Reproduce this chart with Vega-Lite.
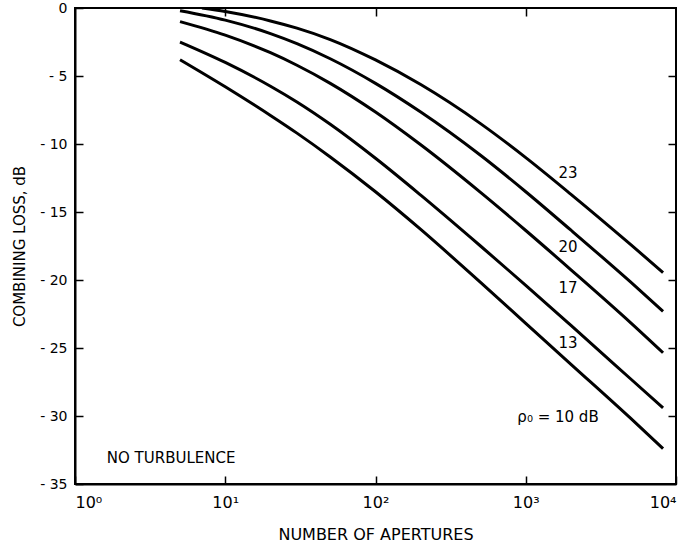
{
  "$schema": "https://vega.github.io/schema/vega-lite/v6.json",
  "width": 601,
  "height": 476,
  "autosize": {"type": "none"},
  "padding": {"left": 75, "top": 8, "right": 4, "bottom": 66},
  "background": "white",
  "config": {
    "view": {"stroke": "black", "strokeWidth": 2},
    "font": "DejaVu Sans",
    "axis": {
      "domainColor": "black",
      "domainWidth": 2,
      "tickColor": "black",
      "tickWidth": 1.5,
      "grid": false,
      "labelColor": "black",
      "titleColor": "black",
      "labelFont": "DejaVu Sans",
      "titleFont": "DejaVu Sans",
      "titleFontWeight": "normal"
    }
  },
  "datasets": {
    "curves": [
      {"n": 5, "loss": -3.8, "rho": "10"},
      {"n": 10, "loss": -5.79, "rho": "10"},
      {"n": 20, "loss": -7.9, "rho": "10"},
      {"n": 30, "loss": -9.2, "rho": "10"},
      {"n": 50, "loss": -10.95, "rho": "10"},
      {"n": 100, "loss": -13.51, "rho": "10"},
      {"n": 200, "loss": -16.28, "rho": "10"},
      {"n": 500, "loss": -20.18, "rho": "10"},
      {"n": 1000, "loss": -23.19, "rho": "10"},
      {"n": 2000, "loss": -26.2, "rho": "10"},
      {"n": 5000, "loss": -30.18, "rho": "10"},
      {"n": 8200, "loss": -32.4, "rho": "10"},
      {"n": 5, "loss": -2.5, "rho": "13"},
      {"n": 10, "loss": -4.0, "rho": "13"},
      {"n": 20, "loss": -5.75, "rho": "13"},
      {"n": 30, "loss": -6.91, "rho": "13"},
      {"n": 50, "loss": -8.55, "rho": "13"},
      {"n": 100, "loss": -11.05, "rho": "13"},
      {"n": 200, "loss": -13.76, "rho": "13"},
      {"n": 500, "loss": -17.5, "rho": "13"},
      {"n": 1000, "loss": -20.39, "rho": "13"},
      {"n": 2000, "loss": -23.34, "rho": "13"},
      {"n": 5000, "loss": -27.28, "rho": "13"},
      {"n": 8200, "loss": -29.41, "rho": "13"},
      {"n": 5, "loss": -1.0, "rho": "17"},
      {"n": 10, "loss": -2.0, "rho": "17"},
      {"n": 20, "loss": -3.29, "rho": "17"},
      {"n": 30, "loss": -4.21, "rho": "17"},
      {"n": 50, "loss": -5.54, "rho": "17"},
      {"n": 100, "loss": -7.65, "rho": "17"},
      {"n": 200, "loss": -10.06, "rho": "17"},
      {"n": 500, "loss": -13.56, "rho": "17"},
      {"n": 1000, "loss": -16.36, "rho": "17"},
      {"n": 2000, "loss": -19.25, "rho": "17"},
      {"n": 5000, "loss": -23.15, "rho": "17"},
      {"n": 8200, "loss": -25.35, "rho": "17"},
      {"n": 5, "loss": -0.2, "rho": "20"},
      {"n": 10, "loss": -0.89, "rho": "20"},
      {"n": 20, "loss": -1.88, "rho": "20"},
      {"n": 30, "loss": -2.62, "rho": "20"},
      {"n": 50, "loss": -3.73, "rho": "20"},
      {"n": 100, "loss": -5.54, "rho": "20"},
      {"n": 200, "loss": -7.65, "rho": "20"},
      {"n": 500, "loss": -10.83, "rho": "20"},
      {"n": 1000, "loss": -13.51, "rho": "20"},
      {"n": 2000, "loss": -16.34, "rho": "20"},
      {"n": 5000, "loss": -20.16, "rho": "20"},
      {"n": 8200, "loss": -22.3, "rho": "20"},
      {"n": 7, "loss": 0.0, "rho": "23"},
      {"n": 10, "loss": -0.26, "rho": "23"},
      {"n": 20, "loss": -0.95, "rho": "23"},
      {"n": 30, "loss": -1.48, "rho": "23"},
      {"n": 50, "loss": -2.32, "rho": "23"},
      {"n": 100, "loss": -3.82, "rho": "23"},
      {"n": 200, "loss": -5.63, "rho": "23"},
      {"n": 500, "loss": -8.5, "rho": "23"},
      {"n": 1000, "loss": -11.0, "rho": "23"},
      {"n": 2000, "loss": -13.7, "rho": "23"},
      {"n": 5000, "loss": -17.4, "rho": "23"},
      {"n": 8200, "loss": -19.45, "rho": "23"}
    ],
    "labels": [
      {"n": 1910, "loss": -12.1, "label": "23"},
      {"n": 1910, "loss": -17.6, "label": "20"},
      {"n": 1910, "loss": -20.6, "label": "17"},
      {"n": 1910, "loss": -24.6, "label": "13"},
      {"n": 1640, "loss": -30.1, "label": "ρ₀ = 10 dB"},
      {"n": 4.36, "loss": -33.1, "label": "NO TURBULENCE"}
    ]
  },
  "layer": [
    {
      "data": {"name": "curves"},
      "mark": {"type": "line", "color": "black", "strokeWidth": 3, "interpolate": "monotone", "clip": true},
      "encoding": {
        "x": {
          "field": "n", "type": "quantitative",
          "scale": {"type": "log", "domain": [1, 10000]},
          "axis": {
            "orient": "bottom",
            "values": [1, 10, 100, 1000, 10000],
            "labelExpr": "datum.value == 1 ? '10⁰' : datum.value == 10 ? '10¹' : datum.value == 100 ? '10²' : datum.value == 1000 ? '10³' : '10⁴'",
            "labelFlush": true,
            "labelFontSize": 16,
            "tickSize": -8,
            "labelPadding": 18,
            "title": "NUMBER OF APERTURES",
            "titleFontSize": 16,
            "titlePadding": 16
          }
        },
        "y": {
          "field": "loss", "type": "quantitative",
          "scale": {"domain": [-35, 0], "nice": false, "zero": false},
          "axis": {
            "orient": "left",
            "values": [-35, -30, -25, -20, -15, -10, -5, 0],
            "labelExpr": "datum.value == 0 ? '0' : '-  ' + (-datum.value)",
            "labelFontSize": 14,
            "tickSize": -8,
            "labelPadding": 16,
            "title": "COMBINING LOSS, dB",
            "titleFontSize": 15,
            "titleX": -56,
            "titleBaseline": "middle"
          }
        },
        "detail": {"field": "rho"}
      }
    },
    {
      "data": {"name": "labels"},
      "mark": {"type": "text", "fontSize": 15, "color": "black", "font": "DejaVu Sans", "baseline": "middle", "align": "center"},
      "encoding": {
        "x": {
          "field": "n", "type": "quantitative",
          "scale": {"type": "log", "domain": [1, 10000]},
          "axis": {"orient": "top", "values": [10, 100, 1000], "labels": false, "tickSize": -8, "title": null, "domain": false}
        },
        "y": {
          "field": "loss", "type": "quantitative",
          "scale": {"domain": [-35, 0], "nice": false, "zero": false},
          "axis": {"orient": "right", "values": [-30, -25, -20, -15, -10, -5], "labels": false, "tickSize": -8, "title": null, "domain": false}
        },
        "text": {"field": "label"}
      }
    }
  ],
  "resolve": {"axis": {"x": "independent", "y": "independent"}}
}
